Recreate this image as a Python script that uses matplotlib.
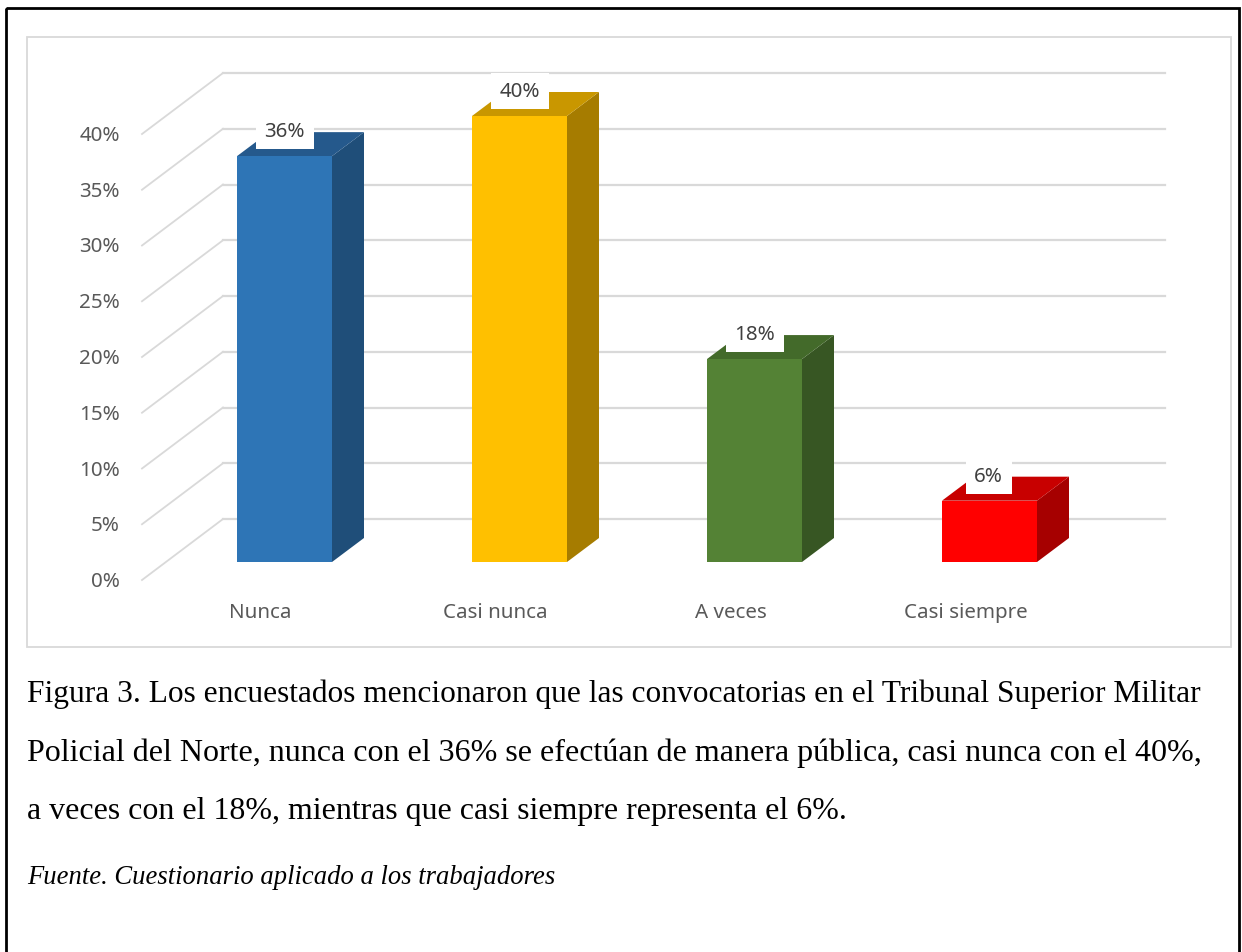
import matplotlib.pyplot as plt
from matplotlib.patches import Polygon, Rectangle

# datos
categorias = ['Nunca', 'Casi nunca', 'A veces', 'Casi siempre']
valores = [36.4, 40, 18.2, 5.5]
etiquetas = ['36%', '40%', '18%', '6%']
ticks = [0, 5, 10, 15, 20, 25, 30, 35, 40]
colores = ['#2E75B6', '#FFC000', '#548235', '#FF0000']
lados = ['#1F4E79', '#A67C00', '#375623', '#A60000']
techos = ['#25598C', '#C99700', '#436A2A', '#C80000']
lineas_texto = [
    'Figura 3. Los encuestados mencionaron que las convocatorias en el Tribunal Superior Militar',
    'Policial del Norte, nunca con el 36% se efectúan de manera pública, casi nunca con el 40%,',
    'a veces con el 18%, mientras que casi siempre representa el 6%.',
]
fuente = 'Fuente. Cuestionario aplicado a los trabajadores'

W, H = 1242, 952
fig = plt.figure(figsize=(W / 100, H / 100), dpi=100)
ax = fig.add_axes([0, 0, 1, 1])
ax.set_xlim(0, W)
ax.set_ylim(H, 0)
ax.axis('off')

# marcos
ax.add_patch(Rectangle((6, 8), 1233, 960, fill=False, ec='black', lw=2))
ax.add_patch(Rectangle((27, 37), 1204, 610, fill=False, ec='#D9D9D9', lw=1.3))

# escala: el piso frontal de las barras esta en y=562
y0_front = 562
px_por_unidad = 11.15
dx, dy = 32, 24
x_ini, x_fin = 142, 1165

for t in ticks:
    yf = 580 - t * px_por_unidad
    ax.plot([x_ini, x_ini + 81], [yf, yf - 61], color='#D9D9D9', lw=1.3, zorder=1)
    ax.plot([x_ini + 81, x_fin], [yf - 61, yf - 61], color='#D9D9D9', lw=1.6, zorder=1)
    ax.text(120, yf + 2, f'{t}%', ha='right', va='center', fontsize=14.8,
            color='#595959', family='Noto Sans')

# barras
x_barras = [237, 472, 707, 942]
ancho = 95
for x, v, lab, c, l, t in zip(x_barras, valores, etiquetas, colores, lados, techos):
    top = y0_front - v * px_por_unidad
    ax.add_patch(Polygon([(x + ancho, y0_front), (x + ancho + dx, y0_front - dy),
                          (x + ancho + dx, top - dy), (x + ancho, top)], fc=l, ec='none', zorder=3))
    ax.add_patch(Polygon([(x, top), (x + dx, top - dy), (x + ancho + dx, top - dy),
                          (x + ancho, top)], fc=t, ec='none', zorder=3))
    ax.add_patch(Rectangle((x, top), ancho, v * px_por_unidad, fc=c, ec='none', zorder=4))
    ancho_caja = 58 if len(lab) == 3 else 46
    xc = x + ancho / 2 - (0 if len(lab) == 3 else 1)
    ax.add_patch(Rectangle((xc - ancho_caja / 2, top - 43), ancho_caja, 36, fc='white',
                           ec='none', zorder=5))
    ax.text(xc, top - 24, lab, ha='center', va='center', fontsize=14.8,
            color='#404040', family='Noto Sans', zorder=6)

# categorias
for x, cat in zip([260.5, 495.5, 730.5, 965.5], categorias):
    ax.text(x, 613, cat, ha='center', va='center', fontsize=14.8, color='#595959',
            family='Noto Sans')

# texto de abajo
for y, linea, fs in zip([694, 753, 811], lineas_texto, [22.55, 23, 22.95]):
    ax.text(27, y, linea, ha='left', va='center', fontsize=fs, color='black',
            family='Liberation Serif')
ax.text(27, 877, fuente, ha='left', va='center', fontsize=19.2, style='italic',
        color='black', family='Liberation Serif')

plt.savefig('out.png', dpi=100)
plt.close()
